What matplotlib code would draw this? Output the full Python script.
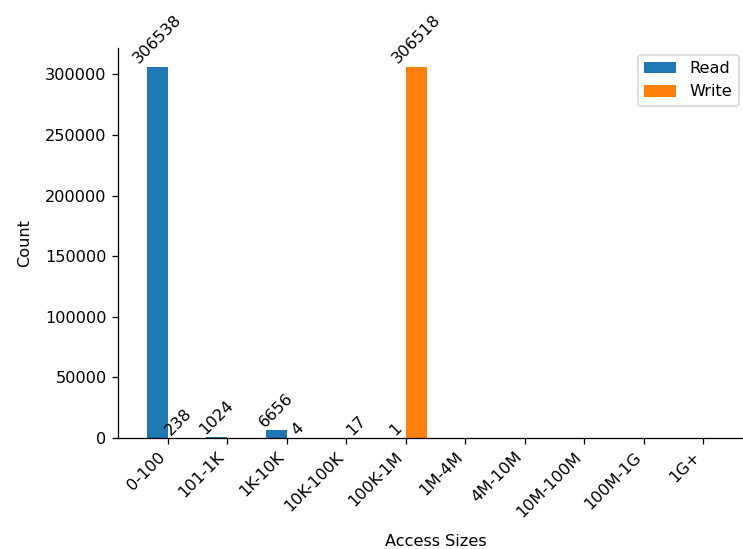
import matplotlib
matplotlib.use("Agg")
import matplotlib.pyplot as plt
import numpy as np

sizes = ['0-100', '101-1K', '1K-10K', '10K-100K', '100K-1M',
         '1M-4M', '4M-10M', '10M-100M', '100M-1G', '1G+']
read_counts = [306538, 1024, 6656, 0, 1, 0, 0, 0, 0, 0]
write_counts = [238, 0, 4, 17, 306518, 0, 0, 0, 0, 0]

dpi = 116
fig = plt.figure(figsize=(743 / dpi, 549 / dpi), dpi=dpi)
# axes runs a bit past the right edge, like the cropped original
ax = fig.add_axes([118 / 743, 1 - 438 / 549, 635 / 743, 390 / 549])

x = np.arange(len(sizes))
w = 0.35
b1 = ax.bar(x - w / 2, read_counts, w, label='Read', color='#1f77b4')
b2 = ax.bar(x + w / 2, write_counts, w, label='Write', color='#ff7f0e')

for bars in (b1, b2):
    for rect in bars:
        h = rect.get_height()
        if h > 0:
            ax.text(rect.get_x() + rect.get_width() / 2, h, str(int(h)),
                    ha='center', va='bottom', rotation=45, fontsize=10)

ax.set_xticks(x)
ax.set_xticklabels(sizes, rotation=45, ha='right')
ax.set_xlabel('Access Sizes', labelpad=9)
ax.set_ylabel('Count', labelpad=8)
ax.spines['top'].set_visible(False)
ax.spines['right'].set_visible(False)

ax.legend(loc='upper right', bbox_to_anchor=(0.994, 1 - 55 / 549),
          bbox_transform=fig.transFigure, borderaxespad=0)

fig.savefig('out.png', dpi=dpi)
